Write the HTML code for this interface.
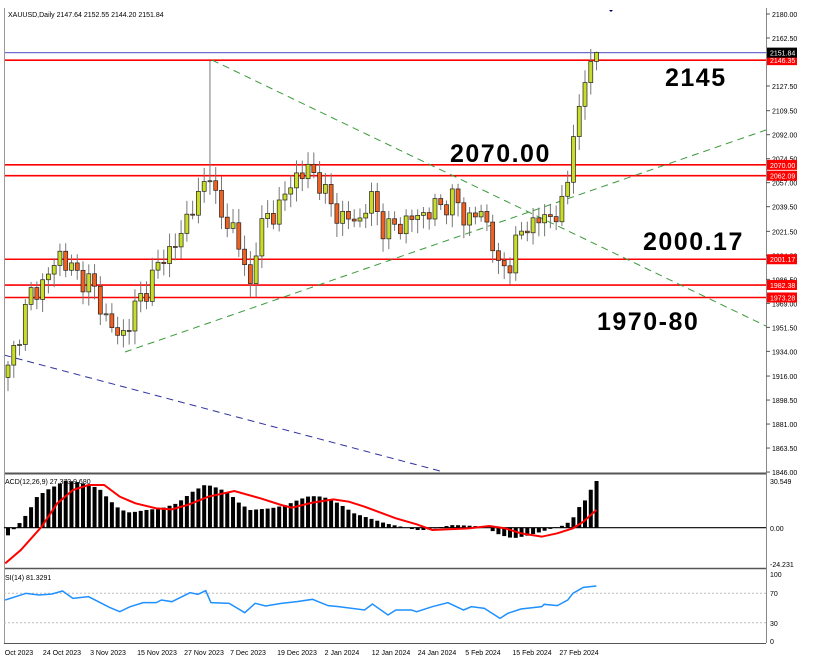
<!DOCTYPE html>
<html><head><meta charset="utf-8"><style>
body{margin:0;background:#fff;}
svg{display:block;font-family:"Liberation Sans",sans-serif;}
</style></head><body>
<svg id="c" width="818" height="665" xmlns="http://www.w3.org/2000/svg"></svg>
<script>
const S=[];
const P=p=>14+(2180-p)*1.3714;
function interp(kp,x){if(x<=kp[0][0])return kp[0][1];for(let i=1;i<kp.length;i++){if(x<=kp[i][0]){const a=kp[i-1],b=kp[i];return a[1]+(b[1]-a[1])*(x-a[0])/(b[0]-a[0]);}}return kp[kp.length-1][1];}
S.push('<rect x="0" y="0" width="818" height="665" fill="#fff"/>');
S.push('<text x="8" y="17" font-size="7" fill="#000">XAUUSD,Daily  2147.64 2152.55 2144.20 2151.84</text>');
S.push('<path d="M609 10 l2 2 l2 -2z" fill="#000080"/>');
S.push('<line x1="766.5" y1="8" x2="766.5" y2="643" stroke="#888"/>');
const labs=[2180,2162.5,2127.5,2109.5,2092,2074.5,2057,2039.5,2021.5,2004,1986.5,1969,1951.5,1934,1916,1898.5,1881,1863.5,1846];
labs.forEach(v=>{const y=P(v);S.push(`<line x1="766" y1="${y}" x2="770" y2="${y}" stroke="#555"/><text x="772" y="${y+3}" font-size="7">${v.toFixed(2)}</text>`);});
S.push(`<line x1="4" y1="${P(2151.84)}" x2="766" y2="${P(2151.84)}" stroke="#7070d0" stroke-width="1.2"/>`);
[[2146.35,'2146.35'],[2070,'2070.00'],[2062.09,'2062.09'],[2001.17,'2001.17'],[1982.38,'1982.38'],[1973.28,'1973.28']].forEach(([v,t])=>{const y=P(v);S.push(`<line x1="4" y1="${y}" x2="766" y2="${y}" stroke="#ff0000" stroke-width="1.6"/><rect x="767" y="${y-5}" width="30" height="10" fill="#ff0000"/><text x="770" y="${y+3}" font-size="7" fill="#fff">${t}</text>`);});
S.push(`<rect x="767" y="${P(2151.84)-5}" width="30" height="10" fill="#000"/><text x="770" y="${P(2151.84)+3}" font-size="7" fill="#fff">2151.84</text>`);
S.push('<line x1="212" y1="60" x2="766" y2="326" stroke="#3a9a3a" stroke-dasharray="7,5"/>');
S.push('<line x1="125" y1="352" x2="766" y2="130" stroke="#3a9a3a" stroke-dasharray="7,5"/>');
S.push('<line x1="4" y1="355" x2="440" y2="471" stroke="#3030a0" stroke-dasharray="7,5"/>');
const kp=[[8,1920],[20,1950],[30,1975],[45,1985],[60,2005],[75,1990],[90,1985],[105,1960],[120,1942],[135,1965],[150,1985],[165,2005],[180,2015],[190,2040],[200,2045],[210,2068],[220,2030],[235,2025],[242,2000],[250,1980],[256,2012],[265,2030],[280,2040],[295,2062],[310,2066],[320,2058],[330,2040],[345,2030],[360,2030],[370,2047],[385,2022],[395,2025],[410,2030],[425,2035],[440,2040],[455,2046],[465,2030],[480,2035],[490,2025],[498,1992],[510,2000],[520,2020],[535,2030],[545,2030],[555,2035],[565,2040],[572,2085],[579,2112],[585,2130],[591,2146],[596,2152]];
const N=103,X0=8,DX=5.77;
let prev=1915;
for(let i=0;i<N;i++){
 const x=X0+i*DX;
 let c=interp(kp,x)+Math.sin(i*2.3)*6+Math.cos(i*1.7)*4;
 if(i>=N-6)c=interp(kp,x);
 const o=prev; prev=c;
 let h=Math.max(o,c)+3+Math.abs(Math.sin(i*3.1))*7, l=Math.min(o,c)-3-Math.abs(Math.cos(i*2.7))*7;
 if(i==N-1)h=2152.55;
 if(Math.abs(x-212)<3)h=2146;
 const up=c>=o;
 const yt=P(Math.max(o,c)), yb=P(Math.min(o,c));
 S.push(`<line x1="${x}" y1="${P(h)}" x2="${x}" y2="${P(l)}" stroke="#777"/>`);
 S.push(`<rect x="${x-2}" y="${yt}" width="4" height="${Math.max(1,yb-yt)}" fill="${up?'#c8dc28':'#f06020'}" stroke="#222" stroke-width="0.7"/>`);
}
const A='font-size="25" font-weight="bold" letter-spacing="1.5"';
S.push(`<text x="665" y="86" ${A}>2145</text>`);
S.push(`<text x="450" y="162" ${A}>2070.00</text>`);
S.push(`<text x="643" y="250" ${A}>2000.17</text>`);
S.push(`<text x="597" y="330" ${A}>1970-80</text>`);
S.push('<line x1="4" y1="473.5" x2="766" y2="473.5" stroke="#555" stroke-width="2"/>');
S.push('<line x1="4" y1="568.5" x2="766" y2="568.5" stroke="#555" stroke-width="1.5"/>');
S.push('<line x1="4" y1="643.5" x2="766" y2="643.5" stroke="#555"/>');
S.push('<line x1="4.5" y1="8" x2="4.5" y2="643" stroke="#999"/>');
const Z=527.7;
const mh=[[10,235],[25,210],[40,185],[55,155],[70,112],[90,90],[110,75],[125,62],[145,65],[170,75],[190,85],[210,120],[230,148],[250,158],[280,150],[310,145],[340,130],[370,95],[395,73],[420,85],[440,100],[460,130],[480,150],[520,145],[550,135],[575,118],[595,108],[620,110],[650,130],[680,160],[710,175],[740,190],[770,200],[800,210],[820,210],[850,200],[870,195],[900,197],[930,200],[960,225],[985,235],[1010,228],[1040,215],[1060,205],[1085,195],[1100,175],[1110,145],[1125,118],[1135,87],[1145,63]].map(a=>[a[0]/1.92,460+a[1]/3]);
const ms=[[10,310],[40,270],[80,200],[110,130],[140,90],[170,75],[200,75],[230,110],[260,130],[300,145],[330,148],[360,135],[400,110],[450,93],[500,115],[540,135],[560,143],[600,128],[640,118],[670,125],[700,140],[760,175],[800,193],[830,210],[900,205],[940,198],[970,205],[1000,220],[1040,230],[1070,220],[1100,205],[1120,185],[1145,150]].map(a=>[a[0]/1.92,460+a[1]/3]);
for(let i=0;i<N;i++){const x=X0+i*DX;const y=interp(mh,x);S.push(`<rect x="${x-2}" y="${Math.min(y,Z)}" width="4" height="${Math.abs(Z-y)}" fill="#000"/>`);}
S.push(`<line x1="4" y1="${Z}" x2="766" y2="${Z}" stroke="#000" stroke-width="1.2"/>`);
S.push('<polyline fill="none" stroke="#ff0000" stroke-width="2" points="'+ms.map(a=>a.join(',')).join(' ')+'"/>');
S.push('<text x="5" y="484" font-size="7">ACD(12,26,9) 27.373 9.680</text>');
S.push('<text x="770" y="484" font-size="7">30.549</text><text x="770" y="531" font-size="7">0.00</text><text x="770" y="567" font-size="7">-24.231</text>');
S.push('<line x1="4" y1="593.3" x2="766" y2="593.3" stroke="#bbb" stroke-dasharray="2,2"/><line x1="4" y1="622.7" x2="766" y2="622.7" stroke="#bbb" stroke-dasharray="2,2"/>');
const rs=[[10,420],[50,400],[75,405],[100,402],[120,393],[140,415],[170,410],[210,442],[230,455],[250,440],[275,428],[300,428],[310,420],[330,425],[365,398],[380,403],[395,392],[405,428],[440,430],[470,458],[490,430],[510,438],[540,430],[570,425],[600,418],[630,437],[650,440],[700,450],[715,432],[745,465],[760,450],[790,450],[800,455],[830,440],[860,428],[890,450],[905,440],[930,445],[960,475],[975,460],[1000,447],[1040,440],[1045,433],[1070,437],[1090,420],[1100,400],[1120,382],[1145,378]].map(a=>[a[0]/1.92,460+a[1]/3]);
S.push('<polyline fill="none" stroke="#1e90ff" stroke-width="1.5" points="'+rs.map(a=>a.join(',')).join(' ')+'"/>');
S.push('<text x="5" y="580" font-size="7">SI(14) 81.3291</text>');
[[100,577],[70,596],[30,626],[0,644]].forEach(([v,y])=>S.push(`<text x="770" y="${y}" font-size="7">${v}</text>`));
[['Oct 2023',19],['24 Oct 2023',62],['3 Nov 2023',108],['15 Nov 2023',157],['27 Nov 2023',204],['7 Dec 2023',248],['19 Dec 2023',297],['2 Jan 2024',342],['12 Jan 2024',391],['24 Jan 2024',437],['5 Feb 2024',483],['15 Feb 2024',532],['27 Feb 2024',579]].forEach(([t,x])=>S.push(`<text x="${x}" y="655" font-size="7" text-anchor="middle">${t}</text>`));
document.getElementById('c').innerHTML=S.join('');
</script>
</body></html>
